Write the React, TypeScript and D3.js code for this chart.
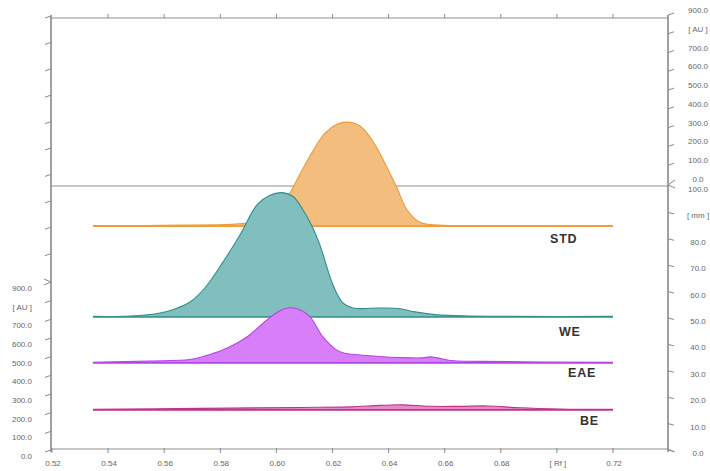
import React from "react";
import * as d3 from "d3";

// ---- data ----
const trackNames = ["STD", "WE", "EAE", "BE"];
const trackOffsetsMm = [84.8, 50.4, 33.0, 15.2];

const stdRf = [0.5346, 0.5585, 0.5895, 0.5959, 0.6013, 0.6048, 0.6084, 0.6130, 0.6173, 0.6216, 0.6255, 0.6298, 0.6344, 0.6394, 0.6430, 0.6458, 0.6487, 0.6512, 0.6548, 0.6655, 0.72];
const stdAU = [3, 5, 16, 43, 107, 177, 279, 402, 498, 546, 557, 536, 455, 316, 204, 107, 48, 21, 8, 3, 2];

const weRf = [0.5346, 0.5478, 0.5585, 0.5638, 0.5692, 0.5745, 0.5810, 0.5870, 0.5931, 0.5977, 0.6020, 0.6059, 0.6095, 0.6130, 0.6155, 0.6202, 0.6237, 0.6273, 0.6369, 0.6441, 0.6494, 0.6573, 0.6690, 0.72];
const weAU = [3, 5, 21, 43, 80, 155, 295, 439, 600, 652, 666, 645, 573, 477, 386, 171, 75, 48, 48, 44, 27, 11, 5, 3];

const eaeRf = [0.5346, 0.5549, 0.5692, 0.5745, 0.5810, 0.5895, 0.5966, 0.6013, 0.6048, 0.6084, 0.6120, 0.6166, 0.6209, 0.6237, 0.6344, 0.6476, 0.6523, 0.6548, 0.6573, 0.6619, 0.6726, 0.72];
const eaeAU = [3, 10, 18, 37, 70, 139, 230, 279, 295, 284, 246, 139, 75, 54, 37, 27, 27, 32, 27, 13, 8, 3];

const beRf = [0.5346, 0.5728, 0.6084, 0.6262, 0.6369, 0.6444, 0.6548, 0.6655, 0.6754, 0.6868, 0.7011, 0.72];
const beAU = [3, 8, 13, 16, 24, 27, 19, 19, 21, 11, 5, 3];

const rfTicks = [0.52, 0.54, 0.56, 0.58, 0.6, 0.62, 0.64, 0.66, 0.68, 0.7, 0.72];
const auTicks = [0, 100, 200, 300, 400, 500, 600, 700, 800, 900];
const mmTicks = [0, 10, 20, 30, 40, 50, 60, 70, 80, 90, 100];

// ---- layout / style ----
const W = 710, H = 471;
const LX = 51, RX = 668, TOPY = 18, BOTY = 449;
const fills = ["#F3BE7D", "#80BFBE", "#D77EF8", "#E58BC8"];
const strokes = ["#EE9B3B", "#2E8F8C", "#B445E6", "#C2318D"];
const labelX = [550, 559, 568, 580];
const labelDy = [12, 15, 10, 11];

export default function App() {
  const x = d3.scaleLinear().domain([0.52, 0.72]).range([52, 613]);
  const auH = d3.scaleLinear().domain([0, 900]).range([0, 168]);
  const mmRight = d3.scaleLinear().domain([0, 100]).range([450, 186]);
  const mmLeft = d3.scaleLinear().domain([0, 100]).range([280, 16]);
  const auLeft = d3.scaleLinear().domain([0, 900]).range([450, 282]);
  const auRight = d3.scaleLinear().domain([0, 900]).range([184, 15]);

  const series = [
    { rf: stdRf, au: stdAU },
    { rf: weRf, au: weAU },
    { rf: eaeRf, au: eaeAU },
    { rf: beRf, au: beAU },
  ];

  const axisColor = "#8a8a8a";
  const textColor = "#666";
  const font = "Liberation Sans, Arial, sans-serif";
  const curve = d3.curveCatmullRom.alpha(0.5);

  return (
    <svg width={W} height={H} style={{ position: "absolute", left: 0, top: 0, background: "#fff" }}>
      {/* frame */}
      <line x1={LX} x2={RX} y1={TOPY} y2={TOPY} stroke="#b5b5b5" strokeWidth={1.5} />
      <line x1={LX} x2={RX} y1={186} y2={186} stroke="#b5b5b5" strokeWidth={1.5} />
      <line x1={LX} x2={RX} y1={BOTY} y2={BOTY} stroke="#b5b5b5" strokeWidth={1.5} />
      <line x1={RX} x2={675} y1={BOTY} y2={452} stroke="#b5b5b5" strokeWidth={1.2} />
      <line x1={LX} x2={LX} y1={15} y2={452} stroke={axisColor} strokeWidth={1.6} />
      <line x1={RX} x2={RX} y1={15} y2={452} stroke={axisColor} strokeWidth={1.6} />

      {/* top ticks */}
      {rfTicks.slice(1).map((t) => (
        <line key={"tt" + t} x1={x(t)} x2={x(t)} y1={TOPY} y2={TOPY - 4} stroke={axisColor} strokeWidth={1} />
      ))}
      {/* bottom ticks + labels */}
      {rfTicks.map((t) => (
        <g key={"bt" + t}>
          <line x1={x(t)} x2={x(t)} y1={BOTY - 1} y2={BOTY + 4} stroke={axisColor} strokeWidth={1} />
          <text x={x(t) + 1} y={466} fontSize={8} fill={textColor} textAnchor="middle" fontFamily={font}>
            {Math.abs(t - 0.7) < 1e-9 ? "[ Rf ]" : t.toFixed(2)}
          </text>
        </g>
      ))}

      {/* left mm ticks (upper) */}
      {mmTicks.slice(1).map((t) => (
        <line key={"lm" + t} x1={LX} x2={LX - 6} y1={mmLeft(t)} y2={mmLeft(t) + 2} stroke={axisColor} strokeWidth={1} />
      ))}
      {/* left AU ticks + labels */}
      {auTicks.map((t) =>
        t === 900 ? (
          <path key={"la" + t} d={`M${LX - 7},${auLeft(t) - 3} L${LX},${auLeft(t)} L${LX - 7},${auLeft(t) + 3}`} fill="none" stroke={axisColor} strokeWidth={1} />
        ) : (
          <line key={"la" + t} x1={LX} x2={LX - 6} y1={auLeft(t)} y2={auLeft(t) + 2} stroke={axisColor} strokeWidth={1} />
        )
      )}
      {auTicks.map((t) => (
        <text key={"lal" + t} x={32} y={auLeft(t) + 9} fontSize={8} fill={textColor} textAnchor="end" fontFamily={font}>
          {t === 800 ? "[ AU ]" : t.toFixed(1)}
        </text>
      ))}

      {/* right AU ticks (upper) */}
      {auTicks.map((t) =>
        t === 0 ? (
          <path key={"ra" + t} d={`M${RX + 7},${auRight(t) - 4} L${RX},${auRight(t) + 1} L${RX + 7},${auRight(t) + 4}`} fill="none" stroke={axisColor} strokeWidth={1} />
        ) : (
          <line key={"ra" + t} x1={RX} x2={RX + 6} y1={auRight(t)} y2={auRight(t) - 2} stroke={axisColor} strokeWidth={1} />
        )
      )}
      {auTicks.map((t) => (
        <text key={"ral" + t} x={698} y={auRight(t) - 2} fontSize={8} fill={textColor} textAnchor="middle" fontFamily={font}>
          {t === 800 ? "[ AU ]" : t.toFixed(1)}
        </text>
      ))}
      {/* right mm ticks */}
      {mmTicks.slice(0, 10).map((t) => (
        <line key={"rm" + t} x1={RX} x2={RX + 6} y1={mmRight(t)} y2={mmRight(t) + 1.5} stroke={axisColor} strokeWidth={1} />
      ))}
      {mmTicks.map((t) => (
        <text key={"rml" + t} x={698} y={mmRight(t) + 6} fontSize={8} fill={textColor} textAnchor="middle" fontFamily={font}>
          {t === 90 ? "[ mm ]" : t.toFixed(1)}
        </text>
      ))}

      {/* traces */}
      {series.map((s, i) => {
        const base = mmRight(trackOffsetsMm[i]);
        const pts = s.rf.map((r, j) => [r, s.au[j]] as [number, number]);
        const area = d3
          .area<[number, number]>()
          .x((d) => x(d[0]))
          .y0(base)
          .y1((d) => Math.min(base, base - auH(d[1])))
          .curve(curve);
        const line = d3
          .line<[number, number]>()
          .x((d) => x(d[0]))
          .y((d) => base - auH(d[1]))
          .curve(curve);
        return (
          <g key={trackNames[i]}>
            <path d={area(pts) || ""} fill={fills[i]} stroke="none" />
            <line x1={x(s.rf[0])} x2={x(s.rf[s.rf.length - 1])} y1={base} y2={base} stroke={strokes[i]} strokeWidth={1.6} />
            <path d={line(pts) || ""} fill="none" stroke={strokes[i]} strokeWidth={1.1} />
            <text x={labelX[i]} y={base + labelDy[i] + 4.5} fontSize={12.5} fontWeight="bold" letterSpacing={0.8} fill="#333" fontFamily={font}>
              {trackNames[i]}
            </text>
          </g>
        );
      })}
    </svg>
  );
}
